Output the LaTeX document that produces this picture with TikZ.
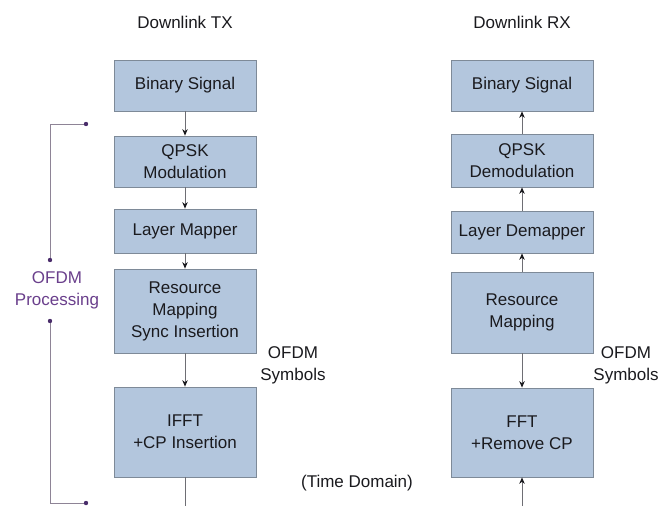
\documentclass[tikz,border=0pt]{standalone}
\usepackage{fontspec}
\setmainfont{Liberation Sans}
\usetikzlibrary{arrows.meta}
\definecolor{boxfill}{HTML}{B3C6DD}
\definecolor{boxline}{HTML}{7E8A98}
\definecolor{inkdark}{HTML}{1A1A1E}
\definecolor{wire}{HTML}{6E6E74}
\definecolor{bracketline}{HTML}{8E8496}
\definecolor{bracketdot}{HTML}{4A2D6B}
\definecolor{bracketink}{HTML}{6A3F8C}
\tikzset{
  x=1pt, y=-1pt,
  every node/.style={font=\fontsize{17}{22}\selectfont, text=inkdark, align=center, inner sep=0pt},
  blockbox/.style={draw=boxline, line width=0.8pt, fill=boxfill, minimum width=142pt},
  wireline/.style={draw=wire, line width=0.8pt},
  flow/.style={wireline, -{Stealth[length=6.5pt,width=5.5pt,color=inkdark]}},
  bracket/.style={draw=bracketline, line width=0.8pt},
  dotmark/.style={fill=bracketdot},
  sidelabel/.style={text=inkdark}
}
\begin{document}
\begin{tikzpicture}
\useasboundingbox[fill=white] (0,0) rectangle (658,506);

% column titles
\node (ttx) at (185,22) {Downlink TX};
\node (trx) at (522,22) {Downlink RX};

% transmitter chain
\node[blockbox, minimum height=51pt] (tbin) at (185,85.5) {Binary Signal};
\node[blockbox, minimum height=51pt] (tqpsk) at (185,161.5) {QPSK\\Modulation};
\node[blockbox, minimum height=44pt] (tlay) at (185,231) {Layer Mapper};
\node[blockbox, minimum height=84pt] (tres) at (185,311) {Resource\\Mapping\\Sync Insertion};
\node[blockbox, minimum height=90pt] (tifft) at (185,432) {IFFT\\+CP Insertion};
\coordinate (tout) at (185,506);

\draw[flow] (tbin) -- (tqpsk);
\draw[flow] (tqpsk) -- (tlay);
\draw[flow] (tlay) -- (tres);
\draw[flow] (tres) -- (tifft);
\draw[wireline] (tifft.south) -- (tout);

% receiver chain
\node[blockbox, minimum height=51pt] (rbin) at (522,85.5) {Binary Signal};
\node[blockbox, minimum height=53pt] (rqpsk) at (522,160.5) {QPSK\\Demodulation};
\node[blockbox, minimum height=42pt] (rlay) at (522,232) {Layer Demapper};
\node[blockbox, minimum height=81pt] (rres) at (522,312.5) {Resource\\Mapping};
\node[blockbox, minimum height=89pt] (rfft) at (522,432.5) {FFT\\+Remove CP};
\coordinate (rin) at (522,506);

\draw[flow] (rqpsk) -- (rbin);
\draw[flow] (rlay) -- (rqpsk);
\draw[flow] (rres) -- (rlay);
\draw[flow] (rres) -- (rfft);
\draw[flow] (rin) -- (rfft.south);

% side labels
\node[sidelabel] (tsym) at (293,365) {OFDM\\Symbols};
\node[sidelabel] (rsym) at (626,365) {OFDM\\Symbols};
\node[sidelabel] (tdom) at (357,483) {(Time Domain)};

% processing bracket
\coordinate (bt) at (86,124);
\coordinate (btc) at (50,124);
\coordinate (bm1) at (50,260);
\coordinate (bm2) at (50,321);
\coordinate (bbc) at (50,503);
\coordinate (bb) at (86,503);
\draw[bracket] (bt) -- (btc) -- (bm1);
\draw[bracket] (bm2) -- (bbc) -- (bb);
\foreach \p in {bt,bm1,bm2,bb} \fill[dotmark] (\p) circle (2.2pt);
\node[text=bracketink] (proc) at (57,290) {OFDM\\Processing};
\end{tikzpicture}
\end{document}
